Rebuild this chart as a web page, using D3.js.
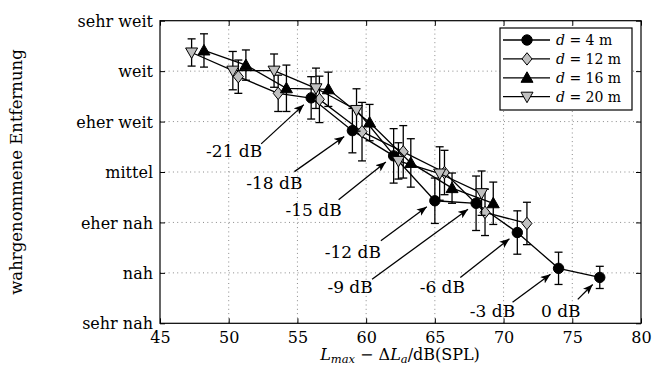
<!DOCTYPE html>
<html>
<head>
<meta charset="utf-8">
<script src="https://cdn.jsdelivr.net/npm/d3@7"></script>
<style>
  html, body { margin: 0; padding: 0; background: #fff; }
  svg { display: block; font-family: "DejaVu Serif", serif; }
</style>
</head>
<body>
<svg id="chart" width="655" height="367"></svg>
<script>
// ── data ─────────────────────────────────────────────────────────────────────
const xTicks  = [45, 50, 55, 60, 65, 70, 75, 80];
const yLabels = ['sehr nah', 'nah', 'eher nah', 'mittel', 'eher weit', 'weit', 'sehr weit']; // 1..7

const x4  = [56, 59, 62, 65, 68, 71, 74, 77];
const y4  = [5.47, 4.82, 4.32, 3.43, 3.38, 2.80, 2.09, 1.91];
const e4  = [0.42, 0.44, 0.54, 0.45, 0.54, 0.43, 0.32, 0.22];

const x12 = [50.7, 53.6, 56.6, 59.7, 62.7, 65.7, 68.65, 71.7];
const y12 = [5.89, 5.56, 5.44, 4.80, 4.40, 3.99, 3.20, 2.98];
const e12 = [0.33, 0.36, 0.46, 0.58, 0.52, 0.44, 0.46, 0.42];

const x16 = [48.2, 51.25, 54.2, 57.25, 60.25, 63.25, 66.25, 69.25];
const y16 = [6.41, 6.12, 5.66, 5.64, 4.98, 4.18, 3.68, 3.38];
const e16 = [0.33, 0.30, 0.46, 0.34, 0.36, 0.48, 0.30, 0.42];

const x20 = [47.3, 50.3, 53.3, 56.35, 59.3, 62.35, 65.35, 68.4];
const y20 = [6.37, 6.01, 6.01, 5.66, 5.23, 4.22, 3.97, 3.58];
const e20 = [0.27, 0.38, 0.33, 0.40, 0.42, 0.36, 0.53, 0.44];

const levels = ['-21 dB', '-18 dB', '-15 dB', '-12 dB', '-9 dB', '-6 dB', '-3 dB', '0 dB'];

// ── styling / layout ─────────────────────────────────────────────────────────
const GREY = '#c0c0c0';
const series = [
  { d: '4',  xs: x4,  ys: y4,  es: e4,  shape: 'circle',  fill: '#000' },
  { d: '12', xs: x12, ys: y12, es: e12, shape: 'diamond', fill: GREY },
  { d: '16', xs: x16, ys: y16, es: e16, shape: 'up',      fill: '#000' },
  { d: '20', xs: x20, ys: y20, es: e20, shape: 'down',    fill: GREY }
];
// label centre and arrow tail, as pixel offsets from the d = 4 m point
const labelOff = [[-77, 53], [-78, 52], [-80, 54], [-82, 51], [-126, 84], [-75, 55], [-66, 43], [-39, 34]];
const tailOff  = [[-50, 46], [-58, 41], [-55, 44], [-54, 40], [-104, 76], [-57, 45], [-46, 34], [-22, 22]];

const L = 160, R = 641, T = 20.7, B = 323.3;
const x = d3.scaleLinear().domain([45, 80]).range([L, R]);
const y = d3.scaleLinear().domain([1, 7]).range([B, T]);

const svg = d3.select('#chart');

svg.append('defs').append('marker')
  .attr('id', 'arrow').attr('markerUnits', 'userSpaceOnUse')
  .attr('viewBox', '0 0 10 8').attr('refX', 10).attr('refY', 4)
  .attr('markerWidth', 10).attr('markerHeight', 8).attr('orient', 'auto')
  .append('path').attr('d', 'M0,0 L10,4 L0,8 L2.5,4 Z').attr('fill', '#000');

// ── grid ─────────────────────────────────────────────────────────────────────
const grid = svg.append('g').attr('stroke', '#8a8a8a').attr('stroke-width', 1)
  .attr('stroke-dasharray', '1,3.3');
grid.selectAll('.gx').data(xTicks.slice(1, -1)).join('line')
  .attr('x1', d => x(d)).attr('x2', d => x(d)).attr('y1', T).attr('y2', B);
grid.selectAll('.gy').data(d3.range(2, 7)).join('line')
  .attr('y1', d => y(d)).attr('y2', d => y(d)).attr('x1', L).attr('x2', R);

// ── axes ─────────────────────────────────────────────────────────────────────
const fs = 16;
const xAxis = svg.append('g').attr('transform', `translate(0,${B})`)
  .call(d3.axisBottom(x).tickValues(xTicks).tickSize(-5).tickPadding(8).tickFormat(d3.format('d')));
const xAxisTop = svg.append('g').attr('transform', `translate(0,${T})`)
  .call(d3.axisTop(x).tickValues(xTicks).tickSize(-5).tickFormat(''));
const yAxis = svg.append('g').attr('transform', `translate(${L},0)`)
  .call(d3.axisLeft(y).tickValues(d3.range(1, 8)).tickSize(-5).tickPadding(7)
    .tickFormat(d => yLabels[d - 1]));
const yAxisR = svg.append('g').attr('transform', `translate(${R},0)`)
  .call(d3.axisRight(y).tickValues(d3.range(1, 8)).tickSize(-5).tickFormat(''));
[xAxis, xAxisTop, yAxis, yAxisR].forEach(a => {
  a.select('.domain').remove();
  a.selectAll('line').attr('stroke', '#000');
  a.selectAll('text').attr('font-family', '"DejaVu Serif", serif').attr('font-size', fs).attr('fill', '#000');
});
yAxis.selectAll('text').attr('dy', '0.35em');
xAxis.selectAll('text').attr('dy', '0.72em');

svg.append('rect').attr('x', L).attr('y', T).attr('width', R - L).attr('height', B - T)
  .attr('fill', 'none').attr('stroke', '#000').attr('stroke-width', 1.2);

// axis titles
const xt = svg.append('text').attr('x', 400).attr('y', 360).attr('text-anchor', 'middle')
  .attr('font-size', 16);
xt.append('tspan').attr('font-style', 'italic').text('L');
xt.append('tspan').attr('font-style', 'italic').attr('font-size', 11.5).attr('dy', 3).text('max');
xt.append('tspan').attr('dy', -3).text(' − Δ');
xt.append('tspan').attr('font-style', 'italic').text('L');
xt.append('tspan').attr('font-style', 'italic').attr('font-size', 11.5).attr('dy', 3).text('a');
xt.append('tspan').attr('dy', -3).text('/dB(SPL)');

svg.append('text').attr('transform', 'translate(22,172) rotate(-90)')
  .attr('text-anchor', 'middle').attr('font-size', 16.5).text('wahrgenommene Entfernung');

// ── markers ──────────────────────────────────────────────────────────────────
function markerPath(shape) {
  if (shape === 'diamond') return 'M0,-6.2 L5,0 L0,6.2 L-5,0 Z';
  if (shape === 'up')      return 'M0,-6 L6,4.5 L-6,4.5 Z';
  if (shape === 'down')    return 'M0,6 L6,-4.5 L-6,-4.5 Z';
  return d3.symbol(d3.symbolCircle, Math.PI * 5.2 * 5.2)();
}

// ── series ───────────────────────────────────────────────────────────────────
const line = d3.line().x(d => x(d[0])).y(d => y(d[1]));
series.forEach(s => {
  const pts = s.xs.map((v, i) => [v, s.ys[i], s.es[i]]);
  const g = svg.append('g');
  g.append('path').datum(pts).attr('d', line)
    .attr('fill', 'none').attr('stroke', '#000').attr('stroke-width', 1.3);
  const eb = g.selectAll('.eb').data(pts).join('g').attr('stroke', '#000').attr('stroke-width', 1.3);
  eb.append('line').attr('x1', d => x(d[0])).attr('x2', d => x(d[0]))
    .attr('y1', d => y(d[1] - d[2])).attr('y2', d => y(d[1] + d[2]));
  eb.append('line').attr('x1', d => x(d[0]) - 4).attr('x2', d => x(d[0]) + 4)
    .attr('y1', d => y(d[1] - d[2])).attr('y2', d => y(d[1] - d[2]));
  eb.append('line').attr('x1', d => x(d[0]) - 4).attr('x2', d => x(d[0]) + 4)
    .attr('y1', d => y(d[1] + d[2])).attr('y2', d => y(d[1] + d[2]));
  g.selectAll('.mk').data(pts).join('path')
    .attr('transform', d => `translate(${x(d[0])},${y(d[1])})`)
    .attr('d', markerPath(s.shape))
    .attr('fill', s.fill).attr('stroke', '#000').attr('stroke-width', 1);
});

// ── level annotations (d = 4 m) ──────────────────────────────────────────────
const ann = svg.append('g');
levels.forEach((lab, i) => {
  const px = x(x4[i]), py = y(y4[i]);
  const [lx, ly] = labelOff[i], [tx, ty] = tailOff[i];
  const len = Math.hypot(tx, ty), gap = 10;
  ann.append('line')
    .attr('x1', px + tx).attr('y1', py + ty)
    .attr('x2', px + tx / len * gap).attr('y2', py + ty / len * gap)
    .attr('stroke', '#000').attr('stroke-width', 1.3).attr('marker-end', 'url(#arrow)');
  ann.append('text').attr('x', px + lx).attr('y', py + ly).attr('dy', '0.35em')
    .attr('text-anchor', 'middle').attr('font-size', 17).text(lab);
});

// ── legend ───────────────────────────────────────────────────────────────────
const lg = svg.append('g');
lg.append('rect').attr('x', 500).attr('y', 28).attr('width', 132).attr('height', 82)
  .attr('fill', '#fff').attr('stroke', '#000').attr('stroke-width', 1.2);
series.forEach((s, i) => {
  const yy = 40 + i * 18.9;
  lg.append('line').attr('x1', 503).attr('x2', 550).attr('y1', yy).attr('y2', yy)
    .attr('stroke', '#000').attr('stroke-width', 1.3);
  lg.append('path').attr('transform', `translate(527,${yy})`).attr('d', markerPath(s.shape))
    .attr('fill', s.fill).attr('stroke', '#000');
  const t = lg.append('text').attr('x', 556).attr('y', yy).attr('dy', '0.35em').attr('font-size', 14);
  t.append('tspan').attr('font-style', 'italic').text('d');
  t.append('tspan').text(` = ${s.d} m`);
});
</script>
</body>
</html>
